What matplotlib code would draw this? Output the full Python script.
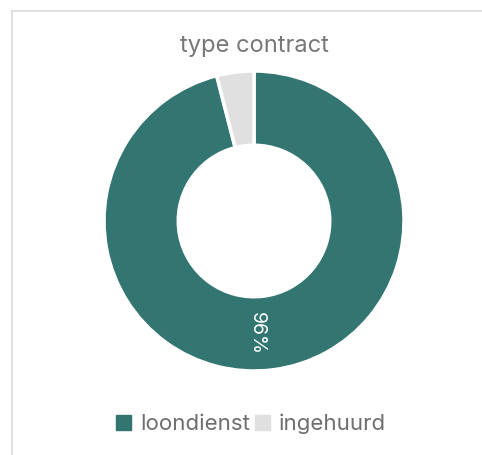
import matplotlib.pyplot as plt
from matplotlib.lines import Line2D

labels = ['loondienst', 'ingehuurd']
values = [96, 4]
colors = ['#337570', '#e0e0e0']

plt.rcParams['font.family'] = ['Inter', 'DejaVu Sans']

fig = plt.figure(figsize=(4.82, 4.55), dpi=100)

# card border (top and left)
fig.add_artist(Line2D([12/482, 1], [1 - 11/455, 1 - 11/455], color='#dcdcdc', lw=1.2))
fig.add_artist(Line2D([12/482, 12/482], [0, 1 - 11/455], color='#dcdcdc', lw=1.2))

ax = fig.add_axes([(254 - 150) / 482, 1 - (221 + 150) / 455, 300 / 482, 300 / 455])
wedges, _ = ax.pie(values, colors=colors, startangle=90, counterclock=False,
                   wedgeprops=dict(width=0.495, edgecolor='white', linewidth=2.5))
ax.set_xlim(-1, 1)
ax.set_ylim(-1, 1)
ax.set_aspect('equal')

# percentage label on the big slice
ax.text(0.02, -0.75, f'{values[0]}%', color='white', fontsize=14,
        rotation=-90, ha='center', va='center')

fig.text(254 / 482, 1 - 46 / 455, 'type contract', color='#777777', fontsize=17,
         ha='center', va='center')

handles = [plt.Rectangle((0, 0), 1, 1, color=c) for c in colors]
fig.legend(handles, labels, loc='center', bbox_to_anchor=(251 / 482, 1 - 424 / 455),
           ncol=2, frameon=False, prop=dict(size=16), labelcolor='#6e6e6e',
           handlelength=0.7, handleheight=0.7, handletextpad=0.4, columnspacing=0.2)

fig.savefig('out.png', dpi=100)
